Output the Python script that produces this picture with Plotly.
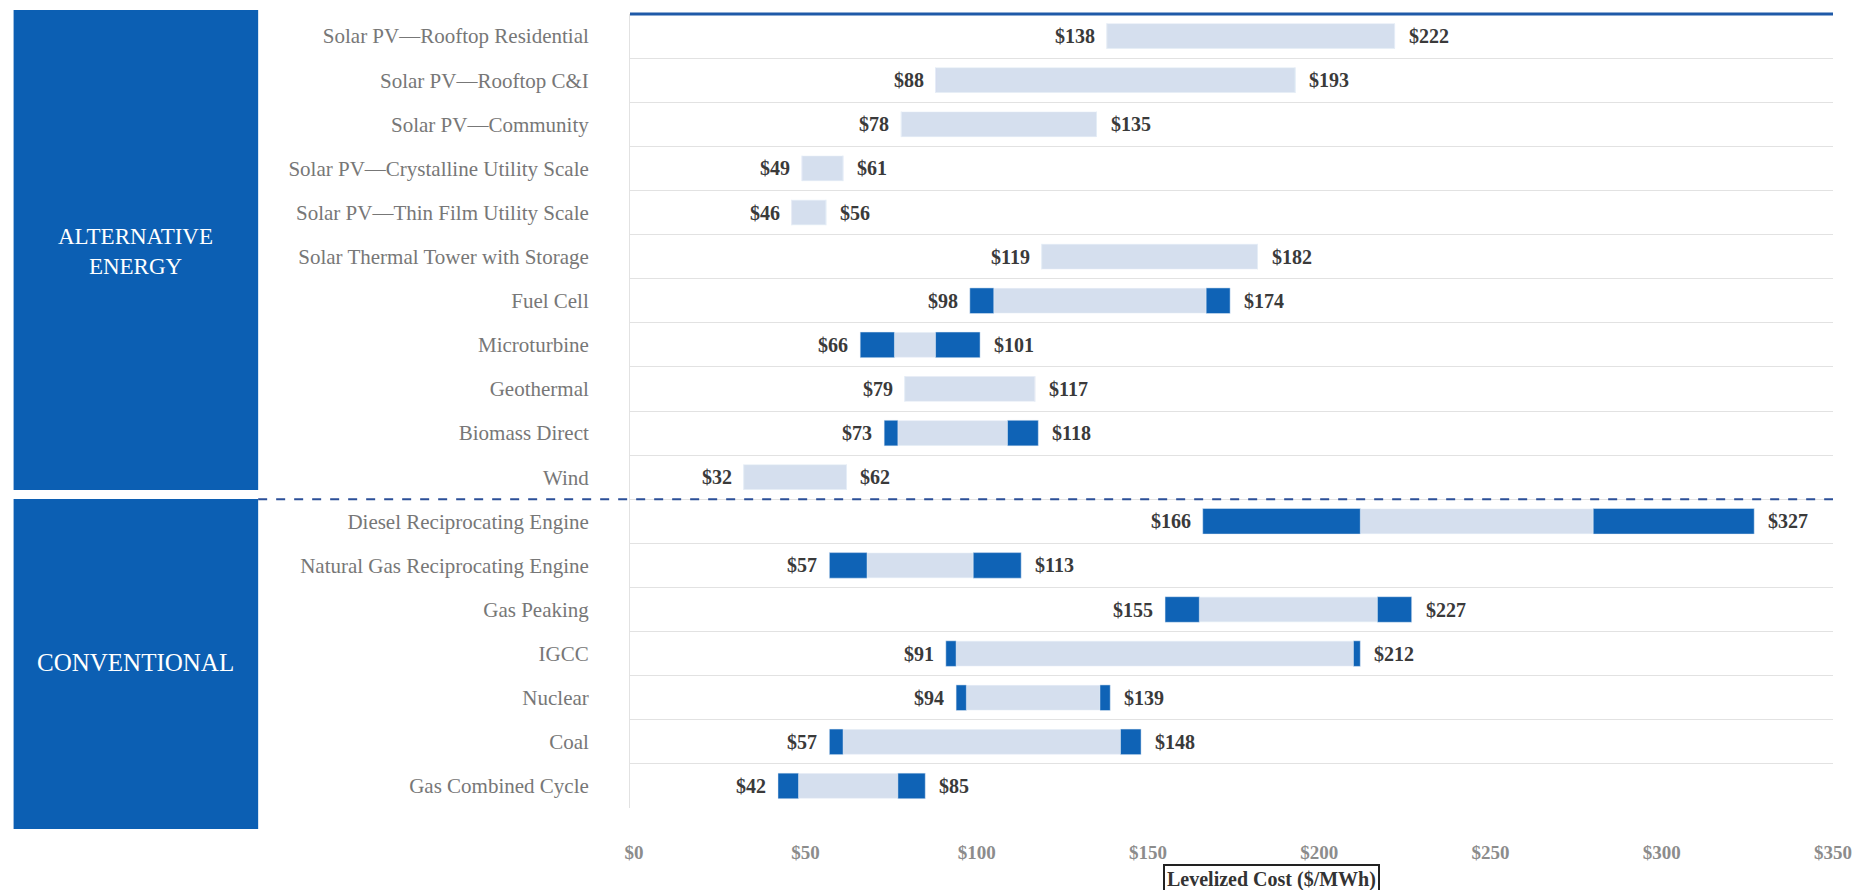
import plotly.graph_objects as go

# rows, top to bottom
categories = [
    "Solar PV—Rooftop Residential",
    "Solar PV—Rooftop C&I",
    "Solar PV—Community",
    "Solar PV—Crystalline Utility Scale",
    "Solar PV—Thin Film Utility Scale",
    "Solar Thermal Tower with Storage",
    "Fuel Cell",
    "Microturbine",
    "Geothermal",
    "Biomass Direct",
    "Wind",
    "Diesel Reciprocating Engine",
    "Natural Gas Reciprocating Engine",
    "Gas Peaking",
    "IGCC",
    "Nuclear",
    "Coal",
    "Gas Combined Cycle",
]
low = [138, 88, 78, 49, 46, 119, 98, 66, 79, 73, 32, 166, 57, 155, 91, 94, 57, 42]
high = [222, 193, 135, 61, 56, 182, 174, 101, 117, 118, 62, 327, 113, 227, 212, 139, 148, 85]
# light (core) range; the rest at each end is the dark fuel-price band
inner_low = [138, 88, 78, 49, 46, 119, 105, 76, 79, 77, 32, 212, 68, 165, 94, 97, 61, 48]
inner_high = [222, 193, 135, 61, 56, 182, 167, 88, 117, 109, 62, 280, 99, 217, 210, 136, 142, 77]
x_ticks = [0, 50, 100, 150, 200, 250, 300, 350]
x_ticktext = ["$%d" % v for v in x_ticks]

W, H = 1864, 890
L, R, T, B = 630, 24, 14, 82

def px_x(px):
    return (px - L) / (W - L - R)

def px_y(py):
    return (H - B - py) / (H - T - B)

LIGHT = "#d5dfee"
DARK = "#0f63b6"
PANEL = "#0c5fb3"
SERIF = "Liberation Serif"

fig = go.Figure()
fig.add_trace(go.Bar(
    y=categories, base=inner_low,
    x=[b - a for a, b in zip(inner_low, inner_high)],
    orientation="h", marker_color=LIGHT, width=0.56, hoverinfo="skip"))
fig.add_trace(go.Bar(
    y=categories, base=low,
    x=[b - a for a, b in zip(low, inner_low)],
    orientation="h", marker_color=DARK, width=0.58, hoverinfo="skip"))
fig.add_trace(go.Bar(
    y=categories, base=inner_high,
    x=[b - a for a, b in zip(inner_high, high)],
    orientation="h", marker_color=DARK, width=0.58, hoverinfo="skip"))

lab_font = dict(family=SERIF, size=20, color="#3a3a3a", weight="bold")
annots = []
for c, lo, hi in zip(categories, low, high):
    annots.append(dict(x=lo, y=c, text="$%d" % lo, showarrow=False,
                       xanchor="right", xshift=-10, font=lab_font))
    annots.append(dict(x=hi, y=c, text="$%d" % hi, showarrow=False,
                       xanchor="left", xshift=12, font=lab_font))

# side panels
annots.append(dict(xref="paper", yref="paper", x=px_x(133), y=px_y(252),
                   xanchor="center", yanchor="middle",
                   text="ALTERNATIVE<br>ENERGY", showarrow=False,
                   font=dict(family=SERIF, size=23, color="white")))
annots.append(dict(xref="paper", yref="paper", x=px_x(133), y=px_y(662),
                   xanchor="center", yanchor="middle",
                   text="CONVENTIONAL", showarrow=False,
                   font=dict(family=SERIF, size=25, color="white")))
# axis title box (cut by the bottom edge, as in the source)
annots.append(dict(xref="paper", yref="paper", x=px_x(1275), y=px_y(864),
                   xanchor="center", yanchor="top",
                   text="Levelized Cost ($/MWh)", showarrow=False,
                   bordercolor="#222222", borderwidth=2, borderpad=2, bgcolor="white",
                   font=dict(family=SERIF, size=20, color="#333333", weight="bold")))

shapes = [
    dict(type="rect", xref="paper", yref="paper", x0=px_x(10), x1=px_x(256),
         y0=px_y(490), y1=px_y(10), fillcolor=PANEL, line_width=0),
    dict(type="rect", xref="paper", yref="paper", x0=px_x(10), x1=px_x(256),
         y0=px_y(829), y1=px_y(499), fillcolor=PANEL, line_width=0),
    dict(type="line", xref="paper", yref="paper", x0=0, x1=1, y0=1, y1=1,
         line=dict(color="#1f5aa8", width=3)),
    dict(type="line", xref="paper", yref="y", x0=px_x(256), x1=1, y0=10.5, y1=10.5,
         line=dict(color="#2b4f98", width=2, dash="dash")),
]

fig.update_layout(
    width=W, height=H,
    margin=dict(l=L, r=R, t=T, b=B),
    paper_bgcolor="white", plot_bgcolor="white",
    barmode="overlay", showlegend=False,
    annotations=annots, shapes=shapes,
    xaxis=dict(range=[-1.2, 350], tickmode="array", tickvals=x_ticks, ticktext=x_ticktext,
               showgrid=False, zeroline=False, ticks="", ticklabelstandoff=31,
               tickfont=dict(family=SERIF, size=19, color="#8c8c8c", weight="bold")),
    yaxis=dict(type="category", categoryorder="array", categoryarray=categories,
               autorange="reversed", tickson="boundaries", ticks="",
               showgrid=True, gridcolor="#e2e2e2", gridwidth=1,
               showline=True, linecolor="#e2e2e2",
               ticklabelstandoff=36,
               tickfont=dict(family=SERIF, size=21, color="#777777")),
)

fig.write_html("out.html", config={"displayModeBar": False},
               post_script="document.body.style.margin='0';document.body.style.overflow='hidden';")
